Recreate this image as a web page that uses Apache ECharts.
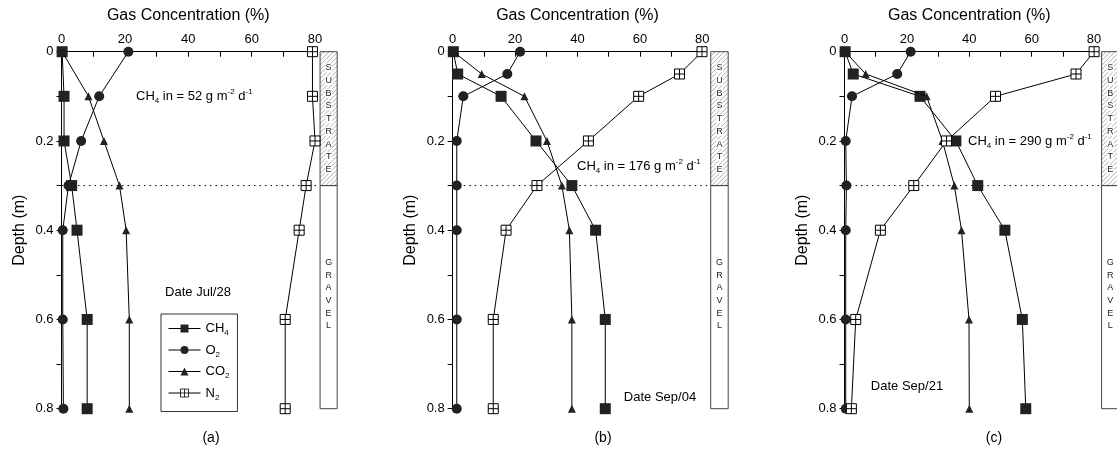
<!DOCTYPE html>
<html><head><meta charset="utf-8">
<script src="https://cdn.jsdelivr.net/npm/echarts@6/dist/echarts.min.js"></script>
<style>html,body{margin:0;padding:0;background:#fff}#c{width:1117px;height:455px}</style>
</head><body><div id="c"></div>
<script>
// ---- data ----
const depthA = [0, 0.1, 0.2, 0.3, 0.4, 0.6, 0.8];
const depthB = [0, 0.05, 0.1, 0.2, 0.3, 0.4, 0.6, 0.8];
const depthC = [0, 0.05, 0.1, 0.2, 0.3, 0.4, 0.6, 0.8];

const ch4A = [0.2, 0.8, 0.8, 3.2, 4.9, 8.1, 8.1];
const o2A  = [21.1, 11.9, 6.2, 2.2, 0.4, 0.4, 0.6];
const co2A = [0.2, 8.5, 13.4, 18.3, 20.4, 21.4, 21.4];
const n2A  = [79.2, 79.2, 80.0, 77.2, 75.0, 70.6, 70.6];

const ch4B = [0.2, 1.6, 15.5, 26.7, 38.2, 45.8, 48.9, 48.9];
const o2B  = [21.6, 17.5, 3.4, 1.3, 1.3, 1.3, 1.3, 1.3];
const co2B = [0.2, 9.3, 23.0, 30.2, 35.0, 37.4, 38.2, 38.2];
const n2B  = [79.9, 72.7, 59.6, 43.5, 27.0, 17.1, 13.0, 13.0];

const ch4C = [0.2, 2.8, 24.2, 35.7, 42.7, 51.4, 57.0, 58.1];
const o2C  = [21.2, 16.9, 2.4, 0.4, 0.6, 0.4, 0.4, 0.4];
const co2C = [0.2, 6.8, 26.3, 31.4, 35.2, 37.5, 39.9, 40.0];
const n2C  = [80.0, 74.2, 48.4, 32.7, 22.2, 11.5, 3.6, 2.2];

const gasNames = ['CH4', 'O2', 'CO2', 'N2'];
const xTicks = [0, 20, 40, 60, 80];
const yTicks = [0, 0.2, 0.4, 0.6, 0.8];
const fluxLabels = ['52', '176', '290'];
const dateLabels = ['Date Jul/28', 'Date Sep/04', 'Date Sep/21'];
const panelLabels = ['(a)', '(b)', '(c)'];
const layerTop = 'SUBSTRATE';
const layerBottom = 'GRAVEL';
const layerDepth = 0.3;

// ---- layout ----
const FONT = 'Liberation Sans, Arial, sans-serif';
const grids = [
  {left: 61.5, top: 51.7, width: 253.5, height: 357},
  {left: 452.7, top: 51.7, width: 249.6, height: 357},
  {left: 844.5, top: 51.7, width: 249.6, height: 357}
];
const columnX = [[81.6, 87.0], [82.7, 88.3], [82.4, 88.0]];

const panels = [
  {depth: depthA, vals: [ch4A, o2A, co2A, n2A]},
  {depth: depthB, vals: [ch4B, o2B, co2B, n2B]},
  {depth: depthC, vals: [ch4C, o2C, co2C, n2C]}
];

const N2PATH = 'path://M0,0H10V10H0Z M5,0V10 M0,5H10';
const styles = {
  CH4: {symbol: 'rect', symbolSize: 11, itemStyle: {color: '#222'}},
  O2:  {symbol: 'circle', symbolSize: 10, itemStyle: {color: '#222'}},
  CO2: {symbol: 'triangle', symbolSize: 8, itemStyle: {color: '#222'}},
  N2:  {symbol: N2PATH, symbolSize: 10, itemStyle: {color: '#fff', borderColor: '#000', borderWidth: 1}}
};

function decor(colL, colR) {
  return function (params, api) {
    const tl = api.coord([colL, 0]);
    const br = api.coord([colR, 0.8]);
    const m = api.coord([colL, layerDepth]);
    const z0 = api.coord([0, layerDepth]);
    const x0 = tl[0], x1 = br[0], y0 = tl[1], y1 = br[1], ym = m[1];
    const ch = [];
    const step = 4.5;
    for (let c = x0 + y0 + step; c < x1 + ym; c += step) {
      const sx = Math.max(x0, c - ym), sy = c - sx;
      const ex = Math.min(x1, c - y0), ey = c - ex;
      ch.push({type: 'line', shape: {x1: sx, y1: sy, x2: ex, y2: ey}, style: {stroke: '#777', lineWidth: 0.6}});
    }
    ch.push({type: 'rect', shape: {x: x0, y: y0, width: x1 - x0, height: ym - y0}, style: {fill: 'none', stroke: '#444', lineWidth: 1}});
    ch.push({type: 'rect', shape: {x: x0, y: ym, width: x1 - x0, height: y1 - ym}, style: {fill: 'none', stroke: '#444', lineWidth: 1}});
    ch.push({type: 'line', shape: {x1: z0[0], y1: ym, x2: x0, y2: ym}, style: {stroke: '#000', lineWidth: 1, lineDash: [1.5, 4]}});
    const cx = (x0 + x1) / 2;
    const sp = 12.7;
    const midTop = (y0 + ym) / 2;
    for (let i = 0; i < layerTop.length; i++) {
      ch.push({type: 'text', x: cx, y: midTop + (i - (layerTop.length - 1) / 2) * sp,
        style: {text: layerTop[i], fontSize: 9, fontFamily: FONT, fill: '#222', align: 'center', verticalAlign: 'middle', backgroundColor: '#fff', padding: [0, 0.5]}});
    }
    const midBot = (ym + y1) / 2 - 3;
    for (let i = 0; i < layerBottom.length; i++) {
      ch.push({type: 'text', x: cx, y: midBot + (i - (layerBottom.length - 1) / 2) * sp,
        style: {text: layerBottom[i], fontSize: 9, fontFamily: FONT, fill: '#222', align: 'center', verticalAlign: 'middle'}});
    }
    return {type: 'group', children: ch};
  };
}

const xAxes = [], yAxes = [], series = [];
grids.forEach((g, i) => {
  xAxes.push({
    type: 'value', gridIndex: i, position: 'top', min: 0, max: 80, interval: 10,
    name: 'Gas Concentration (%)', nameLocation: 'middle', nameGap: 28,
    nameTextStyle: {fontSize: 16, color: '#000', fontFamily: FONT},
    axisLine: {show: true, onZero: false, lineStyle: {color: '#000', width: 1}},
    axisTick: {show: true, inside: true, length: 5, lineStyle: {color: '#000'}},
    axisLabel: {color: '#000', fontSize: 13, fontFamily: FONT, margin: 6,
      formatter: v => xTicks.indexOf(Math.round(v)) >= 0 ? String(Math.round(v)) : ''},
    splitLine: {show: false}
  });
  yAxes.push({
    type: 'value', gridIndex: i, inverse: true, min: 0, max: 0.8, interval: 0.1,
    name: 'Depth (m)', nameLocation: 'middle', nameGap: 34,
    nameTextStyle: {fontSize: 16, color: '#000', fontFamily: FONT},
    axisLine: {show: true, onZero: false, lineStyle: {color: '#000', width: 1}},
    axisTick: {show: true, inside: false, length: 5, lineStyle: {color: '#000'}},
    axisLabel: {color: '#000', fontSize: 13, fontFamily: FONT, margin: 8,
      formatter: v => { const k = Math.round(v * 10); const t = yTicks.find(y => Math.round(y * 10) === k); return t === undefined ? '' : String(t); }},
    splitLine: {show: false}
  });
  series.push({
    type: 'custom', xAxisIndex: i, yAxisIndex: i, clip: false, silent: true, z: 1,
    renderItem: decor(columnX[i][0], columnX[i][1]), data: [[0, 0]]
  });
  const p = panels[i];
  gasNames.forEach((name, k) => {
    const st = styles[name];
    series.push({
      type: 'line', name: name, xAxisIndex: i, yAxisIndex: i,
      data: p.vals[k].map((v, j) => [v, p.depth[j]]),
      symbol: st.symbol, symbolSize: st.symbolSize, itemStyle: st.itemStyle,
      lineStyle: {color: '#000', width: 1}, showSymbol: true, z: 3 + k,
      emphasis: {disabled: true}
    });
  });
});

const subMap = {CH4: ['CH', '4'], O2: ['O', '2'], CO2: ['CO', '2'], N2: ['N', '2']};
const rich = {
  t: {fontSize: 13, fontFamily: FONT, color: '#000'},
  s: {fontSize: 8, fontFamily: FONT, color: '#000', padding: [9, 0, 0, 0]},
  p: {fontSize: 8, fontFamily: FONT, color: '#000', padding: [0, 0, 8, 0]}
};

const graphic = [];
const fluxPos = [[136, 98], [577, 168], [968, 143]];
const datePos = [[198, 292], [660, 397], [907, 386]];
const panelPos = [[211, 438], [603, 438], [994, 438]];
for (let i = 0; i < 3; i++) {
  graphic.push({type: 'text', left: fluxPos[i][0], top: fluxPos[i][1] - 10,
    style: {text: '{t|CH}{s|4}{t| in = ' + fluxLabels[i] + ' g m}{p|-2}{t| d}{p|-1}', rich: rich}});
  graphic.push({type: 'text', x: datePos[i][0], y: datePos[i][1],
    style: {text: dateLabels[i], fontSize: 13, fontFamily: FONT, fill: '#000', align: 'center', verticalAlign: 'middle'}});
  graphic.push({type: 'text', x: panelPos[i][0], y: panelPos[i][1],
    style: {text: panelLabels[i], fontSize: 14, fontFamily: FONT, fill: '#000', align: 'center', verticalAlign: 'middle'}});
}

const chart = echarts.init(document.getElementById('c'), null, {renderer: 'canvas'});
chart.setOption({
  animation: false,
  backgroundColor: '#fff',
  grid: grids,
  xAxis: xAxes,
  yAxis: yAxes,
  series: series,
  legend: {
    data: gasNames.map(n => n === 'N2'
      ? {name: n, itemStyle: {color: '#fff', borderColor: '#000', borderWidth: 0.8}}
      : {name: n}),
    orient: 'vertical', left: 161, top: 314,
    padding: [8, 8, 10, 7], itemGap: 6.5, itemWidth: 32, itemHeight: 10,
    borderColor: '#333', borderWidth: 1, selectedMode: false,
    lineStyle: {width: 1, color: '#000'},
    formatter: n => '{t|' + subMap[n][0] + '}{s|' + subMap[n][1] + '}',
    textStyle: {rich: rich}
  },
  graphic: graphic
});
</script></body></html>
